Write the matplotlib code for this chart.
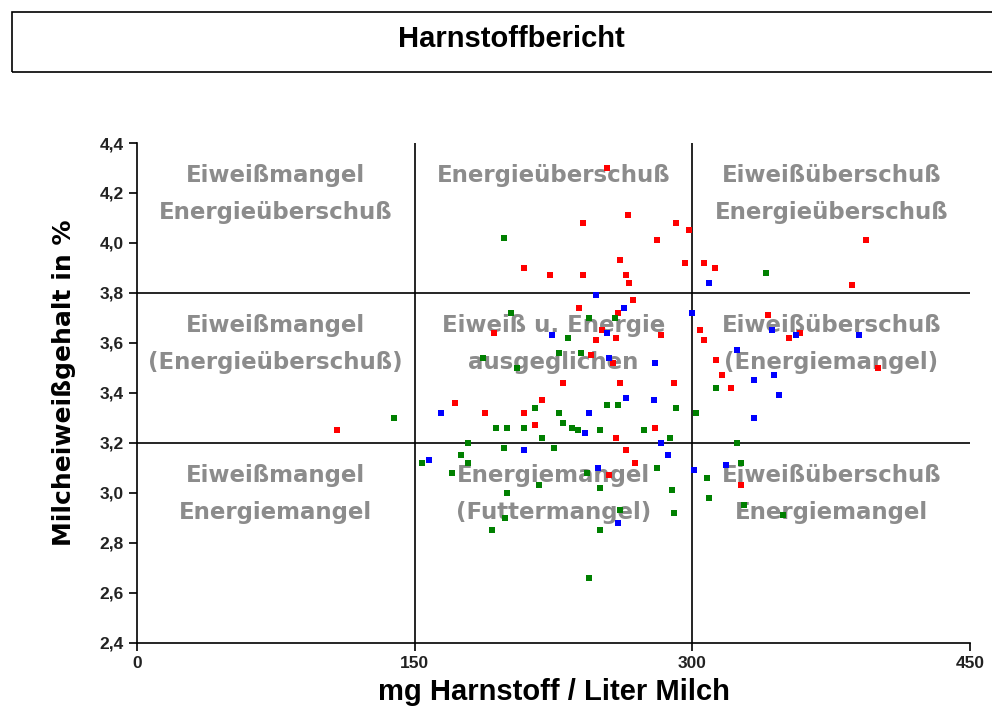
import matplotlib.pyplot as plt
from matplotlib.patches import Rectangle

# Messwerte: Harnstoff (mg/l) und Milcheiweiß (%)
red_x = [254, 265, 241, 291, 298, 281, 261, 296, 209, 223, 241, 264, 266, 268, 239, 260,
         193, 259, 283, 248, 251, 245, 257, 290, 230, 261, 172, 188, 209, 219, 215, 280,
         259, 264, 269, 255, 108, 394, 306, 312, 386, 341, 304, 306, 352, 358, 313, 400,
         316, 321, 326]
red_y = [4.30, 4.11, 4.08, 4.08, 4.05, 4.01, 3.93, 3.92, 3.90, 3.87, 3.87, 3.87, 3.84, 3.77,
         3.74, 3.72, 3.64, 3.62, 3.63, 3.61, 3.65, 3.55, 3.52, 3.44, 3.44, 3.44, 3.36, 3.32,
         3.32, 3.37, 3.27, 3.26, 3.22, 3.17, 3.12, 3.07, 3.25, 4.01, 3.92, 3.90, 3.83, 3.71,
         3.65, 3.61, 3.62, 3.64, 3.53, 3.50, 3.47, 3.42, 3.03]

green_x = [198, 340, 139, 202, 258, 244, 233, 228, 240, 187, 205, 215, 228, 254, 260, 291,
           302, 194, 200, 209, 230, 235, 238, 250, 274, 219, 288, 179, 198, 225, 175, 154,
           179, 170, 243, 281, 217, 250, 289, 200, 261, 290, 199, 192, 250, 244, 313, 324,
           326, 308, 309, 328, 349]
green_y = [4.02, 3.88, 3.30, 3.72, 3.70, 3.70, 3.62, 3.56, 3.56, 3.54, 3.50, 3.34, 3.32, 3.35,
           3.35, 3.34, 3.32, 3.26, 3.26, 3.26, 3.28, 3.26, 3.25, 3.25, 3.25, 3.22, 3.22, 3.20,
           3.18, 3.18, 3.15, 3.12, 3.12, 3.08, 3.08, 3.10, 3.03, 3.02, 3.01, 3.00, 2.93, 2.92,
           2.90, 2.85, 2.85, 2.66, 3.42, 3.20, 3.12, 3.06, 2.98, 2.95, 2.91]

blue_x = [248, 263, 300, 224, 254, 255, 280, 164, 244, 264, 279, 242, 283, 209, 287, 158,
          249, 260, 309, 343, 356, 390, 324, 344, 333, 347, 333, 301, 318]
blue_y = [3.79, 3.74, 3.72, 3.63, 3.64, 3.54, 3.52, 3.32, 3.32, 3.38, 3.37, 3.24, 3.20, 3.17,
          3.15, 3.13, 3.10, 2.88, 3.84, 3.65, 3.63, 3.63, 3.57, 3.47, 3.45, 3.39, 3.30, 3.09,
          3.11]

x_ticks = [0, 150, 300, 450]
y_ticks = [2.4, 2.6, 2.8, 3.0, 3.2, 3.4, 3.6, 3.8, 4.0, 4.2, 4.4]
x_grenzen = [150, 300]
y_grenzen = [3.2, 3.8]

# Feldbeschriftungen: (x-Mitte, y Zeile 1, Zeile 1, Zeile 2)
felder = [
    (75, 4.27, 'Eiweißmangel', 'Energieüberschuß'),
    (225, 4.27, 'Energieüberschuß', ''),
    (375, 4.27, 'Eiweißüberschuß', 'Energieüberschuß'),
    (75, 3.67, 'Eiweißmangel', '(Energieüberschuß)'),
    (225, 3.67, 'Eiweiß u. Energie', 'ausgeglichen'),
    (375, 3.67, 'Eiweißüberschuß', '(Energiemangel)'),
    (75, 3.07, 'Eiweißmangel', 'Energiemangel'),
    (225, 3.07, 'Energiemangel', '(Futtermangel)'),
    (375, 3.07, 'Eiweißüberschuß', 'Energiemangel'),
]

plt.rcParams['font.family'] = ['Liberation Sans', 'DejaVu Sans']

fig = plt.figure(figsize=(9.92, 7.15), dpi=100)

# Titelkasten
fig.patches.append(Rectangle((0.012, 0.899), 1.0, 0.084, transform=fig.transFigure,
                             fill=False, edgecolor='black', linewidth=1.2))
fig.text(0.516, 0.946, 'Harnstoffbericht', ha='center', va='center',
         fontsize=21, fontweight='bold')

ax = fig.add_axes([0.138, 0.1007, 0.840, 0.6993])

for x in x_grenzen:
    ax.axvline(x, color='black', linewidth=1.2, zorder=1)
for y in y_grenzen:
    ax.axhline(y, color='black', linewidth=1.2, zorder=1)

for x, y, z1, z2 in felder:
    for dy, t in ((0, z1), (-0.148, z2)):
        if t:
            ax.text(x, y + dy, t, ha='center', va='center', fontsize=16.5,
                    fontweight='bold', color='#8c8c8c', family='DejaVu Sans',
                    zorder=2)

ax.scatter(red_x, red_y, marker='s', s=22, color='#ff0000', linewidths=0, zorder=3)
ax.scatter(green_x, green_y, marker='s', s=22, color='#008000', linewidths=0, zorder=3)
ax.scatter(blue_x, blue_y, marker='s', s=22, color='#0000ff', linewidths=0, zorder=3)

ax.set_xlim(0, 450)
ax.set_ylim(2.4, 4.4)
ax.set_xticks(x_ticks)
ax.set_yticks(y_ticks)
ax.set_yticklabels([f'{v:.1f}'.replace('.', ',') for v in y_ticks])
ax.tick_params(axis='both', direction='out', length=6, width=1.2, labelsize=12.5)
for lab in ax.get_xticklabels() + ax.get_yticklabels():
    lab.set_fontweight('bold')
    lab.set_color('#222222')
ax.spines['top'].set_visible(False)
ax.spines['right'].set_visible(False)
ax.spines['left'].set_linewidth(1.2)
ax.spines['bottom'].set_linewidth(1.2)

ax.set_xlabel('mg Harnstoff / Liter Milch', fontsize=21, fontweight='bold', labelpad=5)
ax.set_ylabel('Milcheiweißgehalt in %', fontsize=18, fontweight='bold',
              family='DejaVu Sans')
ax.yaxis.set_label_coords(-0.073, 0.52)

fig.savefig('out.png', dpi=100)
